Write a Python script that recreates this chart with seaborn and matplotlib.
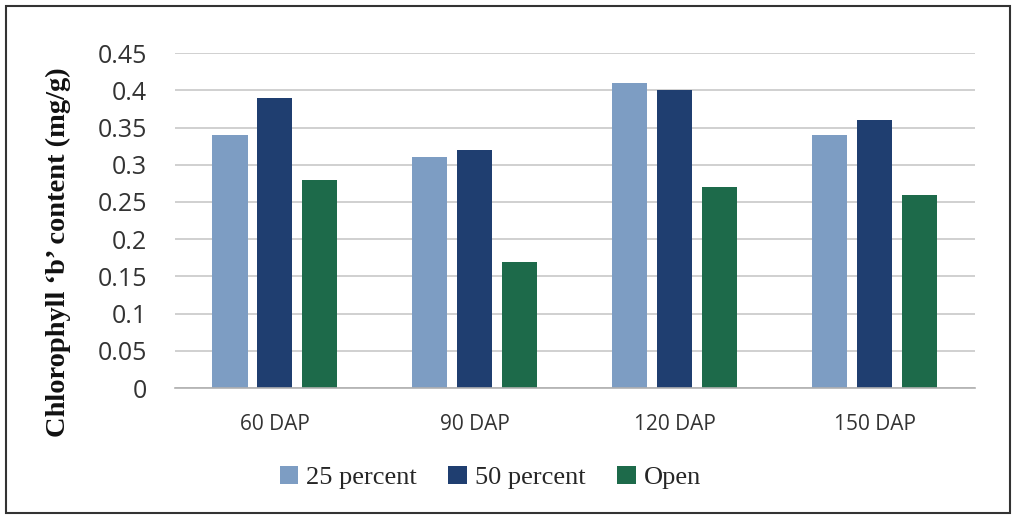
import matplotlib
matplotlib.use("Agg")
import matplotlib.pyplot as plt
from matplotlib.patches import Rectangle
import pandas as pd
import seaborn as sns

stages = ["60 DAP", "90 DAP", "120 DAP", "150 DAP"]
shade_levels = ["25 percent", "50 percent", "Open"]
pct25 = [0.34, 0.31, 0.41, 0.34]
pct50 = [0.39, 0.32, 0.40, 0.36]
open_field = [0.28, 0.17, 0.27, 0.26]
y_ticks = [0, 0.05, 0.1, 0.15, 0.2, 0.25, 0.3, 0.35, 0.4, 0.45]
y_tick_labels = ["0", "0.05", "0.1", "0.15", "0.2", "0.25", "0.3", "0.35", "0.4", "0.45"]

colors = ["#7d9dc3", "#1f3e70", "#1d6a4a"]

rows = []
for level, vals in zip(shade_levels, [pct25, pct50, open_field]):
    for st, v in zip(stages, vals):
        rows.append({"stage": st, "shade": level, "value": v})
df = pd.DataFrame(rows)

sns.set_theme(style="white")
fig = plt.figure(figsize=(10.19, 5.16), dpi=100)
ax = fig.add_axes([0.1717, 0.248, 0.785, 0.649])

sns.barplot(data=df, x="stage", y="value", hue="shade", order=stages,
            hue_order=shade_levels, palette=colors, width=0.675, gap=0.22,
            saturation=1, errorbar=None, linewidth=0, ax=ax)

ax.set_ylim(0, 0.45)
ax.set_yticks(y_ticks)
ax.set_yticklabels(y_tick_labels, fontsize=18, family="Open Sans", color="#333333")
ax.set_xticklabels(stages, fontsize=15, family="Open Sans", color="#333333")
ax.set_xlabel("")
ax.set_ylabel("Chlorophyll \u2018b\u2019 content (mg/g)", family="Liberation Serif",
              fontweight="bold", fontsize=20.5, color="#111111")
ax.yaxis.set_label_coords(-0.13, 0.406)
ax.yaxis.grid(True, color="#c8c8c8", linewidth=1.2)
ax.set_axisbelow(True)
for side in ["left", "right", "top"]:
    ax.spines[side].set_visible(False)
ax.spines["bottom"].set_color("#b0b0b0")
ax.spines["bottom"].set_linewidth(1.2)
ax.tick_params(axis="both", length=0)
ax.tick_params(axis="y", pad=20)
ax.tick_params(axis="x", pad=19)

handles, labels = ax.get_legend_handles_labels()
fig.legend(handles, labels, loc="center", bbox_to_anchor=(0.481, 0.075),
           ncol=3, frameon=False, handlelength=0.7, handleheight=0.7,
           handletextpad=0.3, columnspacing=1.2,
           prop={"family": "Liberation Serif", "size": 19})
ax.get_legend().remove()

fig.patches.append(Rectangle((0.0059, 0.0058), 0.985, 0.982, transform=fig.transFigure,
                             fill=False, edgecolor="#333333", linewidth=1.5))

fig.savefig("out.png", dpi=100)
